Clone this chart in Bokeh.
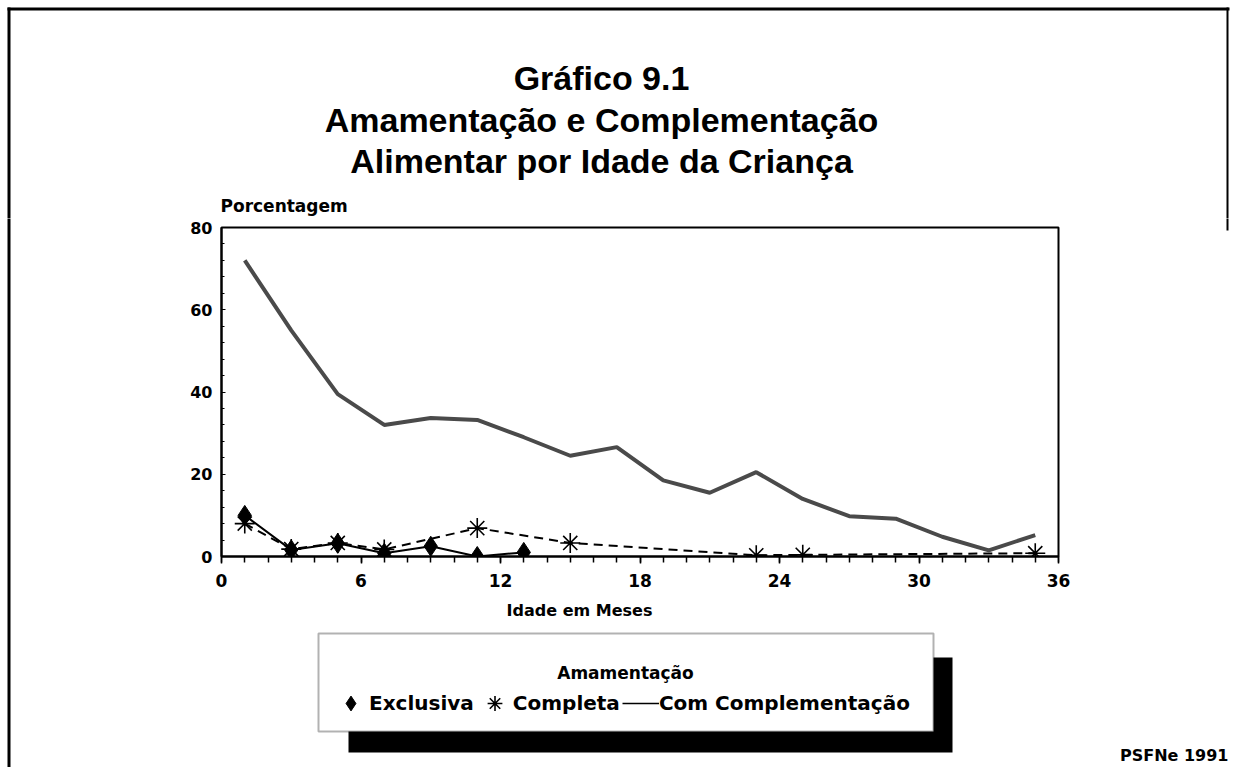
from bokeh.plotting import figure
from bokeh.layouts import row, column
from bokeh.models import (Range1d, FixedTicker, Label, BoxAnnotation, Legend,
                          LegendItem, ColumnDataSource)
from bokeh.embed import file_html
from bokeh.resources import INLINE

# ---------------- data ----------------
age_complement = [1, 3, 5, 7, 9, 11, 13, 15, 17, 19, 21, 23, 25, 27, 29, 31, 33, 35]
pct_complement = [72.0, 55.0, 39.5, 32.0, 33.7, 33.2, 29.0, 24.5, 26.6, 18.5,
                  15.5, 20.5, 14.0, 9.8, 9.2, 4.8, 1.5, 5.2]
age_exclusive = [1, 3, 5, 7, 9, 11, 13]
pct_exclusive = [10.0, 1.6, 3.2, 0.8, 2.5, 0.0, 1.0]
age_complete = [1, 3, 5, 7, 11, 15, 23, 25, 35]
pct_complete = [8.0, 1.8, 3.3, 1.7, 6.9, 3.3, 0.3, 0.4, 0.8]

x_ticks = [0, 6, 12, 18, 24, 30, 36]
y_ticks = [0, 20, 40, 60, 80]

title_lines = ["Gráfico 9.1", "Amamentação e Complementação", "Alimentar por Idade da Criança"]
legend_title = "Amamentação"
series_names = ["Exclusiva", "Completa", "Com Complementação"]
y_label = "Porcentagem"
x_label = "Idade em Meses"
source_note = "PSFNe 1991"

# ---------------- page geometry (pixels) ----------------
W, H = 1231, 767
HEAD = 218                 # bottom of the full-width title panel
LEFT_STRIP = 12            # strip with the page's left border line
RIGHT_X = 1075             # start of the right-hand strip
FX0, FX1 = 221, 1058       # plot frame left/right
FY1, FY0 = 227, 556        # plot frame top/bottom
MAIN_BOTTOM = 592          # bottom of the main figure
BOLD_FONT = "DejaVu Sans"
TITLE_FONT = "Liberation Sans"
COMMON = dict(output_backend="svg", toolbar_location=None,
              background_fill_color="white", border_fill_color="white")
SIDE = dict(min_border_left=FX0 - LEFT_STRIP, min_border_right=RIGHT_X - FX1)


def deco_fig(x0, x1, y0, y1, **kw):
    """Figure whose data units are page pixels (y pointing down)."""
    if kw:
        f = figure(frame_width=x1 - x0, frame_height=y1 - y0,
                   min_border_top=0, min_border_bottom=0,
                   x_range=Range1d(x0, x1), y_range=Range1d(y1, y0), **kw, **COMMON)
    else:
        f = figure(width=x1 - x0, height=y1 - y0, min_border=0,
                   x_range=Range1d(x0, x1), y_range=Range1d(y1, y0), **COMMON)
    f.axis.visible = False
    f.grid.visible = False
    f.outline_line_color = None
    return f


def rule(f, l, r, t, b):
    f.add_layout(BoxAnnotation(left=l, right=r, top=t, bottom=b, fill_color="black",
                               fill_alpha=1, line_color=None))


def text(f, x, y, s, size, align="center", font=BOLD_FONT):
    f.add_layout(Label(x=x, y=y, text=s, text_align=align, text_baseline="alphabetic",
                       text_font=font, text_font_style="bold",
                       text_font_size=size, text_color="black"))


# ---------------- head: page border top, titles, y-axis caption ----------------
head = deco_fig(0, W, 0, HEAD)
rule(head, 7, W - 2, 7, 10)                 # top border
rule(head, 7, 10, 7, HEAD + 4)              # left border (upper part)
rule(head, W - 5, W - 3, 7, HEAD + 4)       # right border (upper part)
for txt, base in zip(title_lines, [77, 119, 160]):
    text(head, 601, base, txt, "34px", font=TITLE_FONT)
text(head, FX0 - 1, 205, y_label, "17px", align="left")

# ---------------- side strips ----------------
left_strip = deco_fig(0, LEFT_STRIP, HEAD, H)
rule(left_strip, 7, 10, HEAD - 4, H)

right_strip = deco_fig(RIGHT_X, W, HEAD, H)
rule(right_strip, W - 5, W - 3, HEAD - 4, 230)
text(right_strip, W - 3, 755, source_note, "16px", align="right")

# ---------------- main chart ----------------
p = figure(frame_width=FX1 - FX0, frame_height=FY0 - FY1,
           min_border_top=FY1 - HEAD, min_border_bottom=MAIN_BOTTOM - FY0,
           x_range=Range1d(0, 36), y_range=Range1d(0, 80), **SIDE, **COMMON)
p.grid.visible = False
p.outline_line_color = "black"
p.outline_line_width = 2

xa = p.xaxis[0]
xa.ticker = FixedTicker(ticks=x_ticks, minor_ticks=list(range(0, 37)))
xa.axis_line_width = 2
xa.major_tick_in = 0
xa.major_tick_out = 7
xa.minor_tick_in = 0
xa.minor_tick_out = 6
xa.major_tick_line_width = 1.5
xa.minor_tick_line_width = 1.5
xa.major_label_standoff = 10
xa.major_label_text_font = BOLD_FONT
xa.major_label_text_font_style = "bold"
xa.major_label_text_font_size = "17px"
xa.major_label_text_color = "black"

ya = p.yaxis[0]
ya.ticker = FixedTicker(ticks=y_ticks, minor_ticks=list(range(0, 81, 4)))
ya.axis_line_width = 2
ya.major_tick_in = 4
ya.major_tick_out = 0
ya.minor_tick_in = 3
ya.minor_tick_out = 0
ya.major_label_standoff = 9
ya.major_label_text_font = BOLD_FONT
ya.major_label_text_font_style = "bold"
ya.major_label_text_font_size = "16px"
ya.major_label_text_color = "black"

src_c = ColumnDataSource(dict(x=age_complement, y=pct_complement))
src_e = ColumnDataSource(dict(x=age_exclusive, y=pct_exclusive))
src_k = ColumnDataSource(dict(x=age_complete, y=pct_complete))

COMP_STYLE = dict(line_color="#4a4a4a", line_width=4)
FULL_PTS = dict(marker="asterisk", line_color="black", line_width=1.6)
EXCL_PTS = dict(marker="diamond", fill_color="black", line_color="black")

p.line("x", "y", source=src_c, **COMP_STYLE)
p.line("x", "y", source=src_k, line_color="black", line_width=2, line_dash="9 6")
p.scatter("x", "y", source=src_k, size=20, **FULL_PTS)
p.line("x", "y", source=src_e, line_color="black", line_width=2)
p.scatter("x", "y", source=src_e, size=20, **EXCL_PTS)

# ---------------- bottom panel: axis title, legend ----------------
bot = deco_fig(FX0, FX1, MAIN_BOTTOM, H, **SIDE)
text(bot, 579, 610, x_label, "16px")
bot.add_layout(BoxAnnotation(left=348, right=952, top=657, bottom=752,
                             fill_color="black", fill_alpha=1, line_color=None))
bot.add_layout(BoxAnnotation(left=318, right=933, top=633, bottom=731,
                             fill_color="white", fill_alpha=1, line_color="black",
                             line_width=2))
text(bot, 625, 672, legend_title, "17px")

# legend proxies: same styles as the series, a single undefined point each
nan_src = lambda: ColumnDataSource(dict(x=[float("nan")], y=[float("nan")]))
lg_e = bot.scatter(x="x", y="y", source=nan_src(), size=14, **EXCL_PTS)
lg_k = bot.scatter(x="x", y="y", source=nan_src(), size=14, **FULL_PTS)
lg_c = bot.line(x="x", y="y", source=nan_src(), line_color="black", line_width=1.5)

legend = Legend(items=[LegendItem(label=series_names[0], renderers=[lg_e]),
                       LegendItem(label=series_names[1], renderers=[lg_k]),
                       LegendItem(label=series_names[2], renderers=[lg_c])],
                orientation="horizontal", location=(332 - FX0, H - 722),
                border_line_color=None, background_fill_alpha=0,
                label_text_font=BOLD_FONT, label_text_font_style="bold",
                label_text_font_size="20px", label_text_color="black",
                glyph_width=37, glyph_height=38, label_standoff=0, spacing=2,
                padding=0, margin=0)
bot.add_layout(legend, "center")

layout = column(head, row(left_strip, column(p, bot), right_strip))
open("out.html", "w").write(file_html(layout, INLINE))
